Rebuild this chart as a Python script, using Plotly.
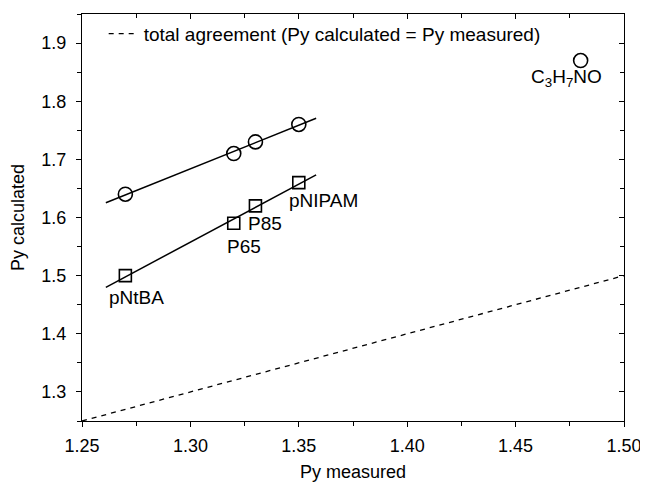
import numpy as np
import plotly.graph_objects as go

# measured vs calculated Py
circ_x = [1.27, 1.32, 1.33, 1.35]
circ_y = [1.64, 1.71, 1.73, 1.76]
sq_x = [1.27, 1.32, 1.33, 1.35]
sq_y = [1.50, 1.59, 1.62, 1.66]
sq_labels = ["pNtBA", "P65", "P85", "pNIPAM"]
mono_x = [1.48]
mono_y = [1.87]
mono_label = "C<sub>3</sub>H<sub>7</sub>NO"
fit_x_range = [1.261, 1.358]
diag = [1.25, 1.50]

FONT = "Liberation Sans, Arial, sans-serif"

fig = go.Figure()

# total agreement line
fig.add_trace(go.Scatter(x=diag, y=diag, mode="lines",
                         line=dict(color="black", width=1.3, dash="5px,5px"),
                         name="total agreement (Py calculated = Py measured)",
                         showlegend=True))

# fit lines
fx = np.array(fit_x_range)
for xs, ys in [(circ_x, circ_y), (sq_x, sq_y)]:
    p = np.polyfit(xs, ys, 1)
    fig.add_trace(go.Scatter(x=fx, y=np.polyval(p, fx), mode="lines",
                             line=dict(color="black", width=1.5), showlegend=False))

fig.add_trace(go.Scatter(x=circ_x + mono_x, y=circ_y + mono_y, mode="markers",
                         marker=dict(symbol="circle-open", size=14, color="black",
                                     line=dict(width=1.6, color="black")),
                         showlegend=False))
fig.add_trace(go.Scatter(x=sq_x, y=sq_y, mode="markers",
                         marker=dict(symbol="square-open", size=12, color="black",
                                     line=dict(width=1.6, color="black")),
                         showlegend=False))

# dummy trace for mirrored axes
fig.add_trace(go.Scatter(x=[None], y=[None], xaxis="x2", yaxis="y2", showlegend=False))

shifts = [(11, -22), (10, -23), (10, -18), (25, -18)]
for (x, y, t), (dx, dy) in zip(zip(sq_x, sq_y, sq_labels), shifts):
    fig.add_annotation(x=x, y=y, text=t, showarrow=False, xshift=dx, yshift=dy,
                       font=dict(family=FONT, size=19, color="black"))
fig.add_annotation(x=mono_x[0], y=mono_y[0], text=mono_label, showarrow=False,
                   xshift=-14, yshift=-17, font=dict(family=FONT, size=19, color="black"))

axis_common = dict(showgrid=False, zeroline=False, showline=True, linecolor="black",
                   linewidth=1.3, tickcolor="black", tickwidth=1.2, ticklen=5)
tickfont = dict(family=FONT, size=18, color="black")

fig.update_layout(
    width=640, height=476,
    margin=dict(l=74, r=22, t=6, b=54),
    paper_bgcolor="white", plot_bgcolor="white",
    font=dict(family=FONT, size=18, color="black"),
    xaxis=dict(range=[1.25, 1.50], dtick=0.05, tickformat=".2f", ticks="outside",
               tickfont=tickfont, ticklabelstandoff=3,
               minor=dict(dtick=0.025, ticks="outside", ticklen=4, tickcolor="black"),
               title=dict(text="Py measured", font=dict(family=FONT, size=18), standoff=10),
               **axis_common),
    yaxis=dict(range=[1.25, 1.95], tick0=1.3, dtick=0.1, tickformat=".1f", ticks="outside",
               tickfont=tickfont, ticklabelstandoff=6,
               minor=dict(dtick=0.05, ticks="outside", ticklen=4, tickcolor="black"),
               title=dict(text="Py calculated", font=dict(family=FONT, size=18), standoff=14),
               **axis_common),
    xaxis2=dict(range=[1.25, 1.50], dtick=0.05, overlaying="x", side="top", ticks="inside",
                showticklabels=False, anchor="y",
                minor=dict(dtick=0.025, ticks="inside", ticklen=4, tickcolor="black"),
                **axis_common),
    yaxis2=dict(range=[1.25, 1.95], tick0=1.3, dtick=0.1, overlaying="y", side="right",
                ticks="inside", showticklabels=False, anchor="x",
                minor=dict(dtick=0.05, ticks="inside", ticklen=4, tickcolor="black"),
                **axis_common),
    legend=dict(x=0.04, y=0.998, xanchor="left", yanchor="top", bgcolor="rgba(0,0,0,0)",
                font=dict(family=FONT, size=19, color="black"), itemwidth=30),
    showlegend=True,
)

fig.write_html("out.html")
